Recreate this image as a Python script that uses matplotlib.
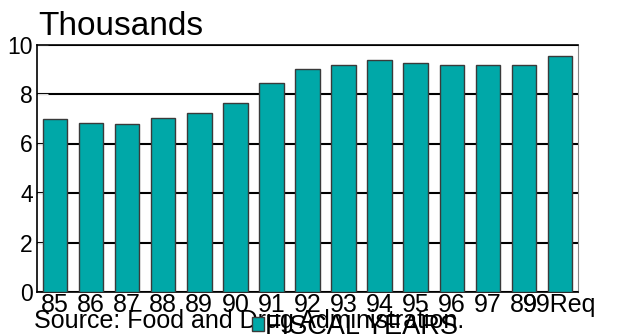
import matplotlib.pyplot as plt
import numpy as np

plt.rcParams['font.family'] = ['Liberation Sans', 'DejaVu Sans']

# fiscal years and values (thousands)
years = ['85', '86', '87', '88', '89', '90', '91', '92', '93', '94', '95', '96', '97', '89', '99Req']
values = [7.0, 6.84, 6.78, 7.04, 7.22, 7.62, 8.46, 9.0, 9.16, 9.36, 9.27, 9.19, 9.19, 9.16, 9.54]
yticks = [0, 2, 4, 6, 8, 10]

fig = plt.figure(figsize=(6.23, 3.35), dpi=100)
ax = fig.add_axes([37 / 623, 43 / 335, 541 / 623, 247.5 / 335])

x = np.arange(len(years))
bars = ax.bar(x, values, width=0.68, color='#00a8a8', edgecolor='#3a3a3a',
              linewidth=1, zorder=3, label='FISCAL YEARS')

ax.set_xlim(-0.5, len(years) - 0.5)
ax.set_ylim(0, 10)
ax.set_yticks(yticks)
ax.set_xticks(x)
ax.set_xticklabels(years)

ax.yaxis.grid(True, color='black', linewidth=1.5, zorder=0)
ax.set_axisbelow(True)

for s in ['left', 'bottom', 'top']:
    ax.spines[s].set_color('black')
    ax.spines[s].set_linewidth(1.2)
ax.spines['right'].set_color('#888888')

ax.tick_params(axis='x', direction='in', length=8, color='#cfe8e8', labelsize=18, pad=1)
ax.tick_params(axis='y', direction='in', length=8, color='#dddddd', labelsize=16.5, pad=3)

fig.text(38 / 623, (335 - 35) / 335, 'Thousands', fontsize=24, va='baseline', ha='left')
fig.text(34 / 623, (335 - 328) / 335, 'Source: Food and Drug Administration.', fontsize=18,
         va='baseline', ha='left')

fig.legend(handles=[bars], labels=['FISCAL YEARS'], loc='upper left',
           bbox_to_anchor=(238 / 623, (335 - 300) / 335), frameon=False, fontsize=19.5,
           borderpad=0, handlelength=0.45, handleheight=0.45, handletextpad=0.05)

plt.savefig('out.png', dpi=100)
